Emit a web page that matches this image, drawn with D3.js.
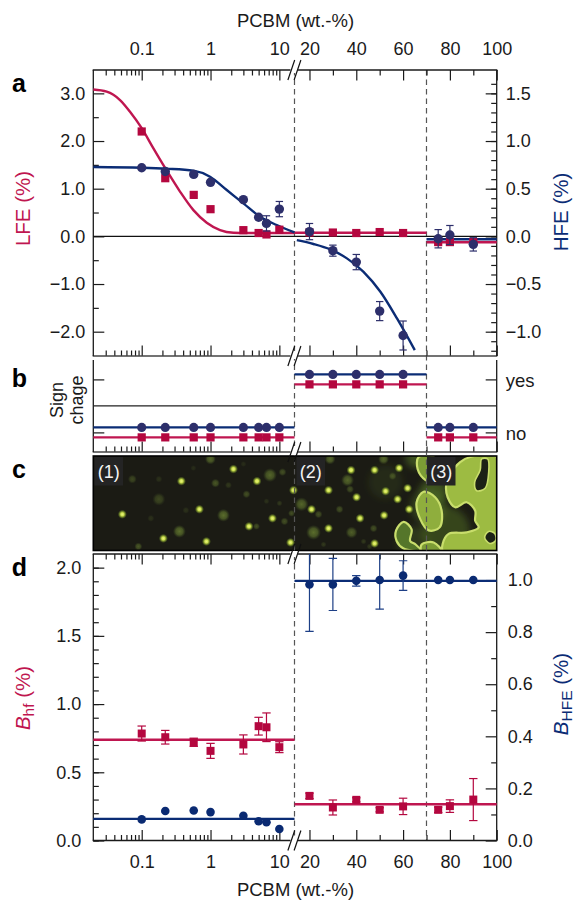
<!DOCTYPE html>
<html><head><meta charset="utf-8">
<script src="https://cdn.jsdelivr.net/npm/d3@7"></script>
<style>html,body{margin:0;padding:0;background:#fff}svg{display:block}text{font-family:"Liberation Sans",Arial,sans-serif;fill:#222}</style>
</head><body><div id="c"></div>
<script>
// ---------- data ----------
const lowPcbm = [0.1,0.22,0.57,1,3,5,6.5,10];
const midPcbm = [20,30,40,50,60];
const highPcbm = [75,80,90];
// panel a
const lfeLow = [2.2,1.22,0.87,0.57,0.13,0.07,0.04,0.14];
const lfeMid = [0.08,0.08,0.07,0.09,0.07];
const lfeHigh = [-0.12,-0.12,-0.12];
const hfeLow = [0.72,0.68,0.65,0.567,0.385,0.2,0.136,0.286];
const hfeLowErr = [0,0,0,0,0,0.02,0.08,0.08];
const hfeMid = [0.05,-0.15,-0.27,-0.784,-1.04];
const hfeMidErr = [0.085,0.058,0.08,0.1,0.152];
const hfeHigh = [-0.025,0.014,-0.084];
const hfeHighErr = [0.096,0.1,0.07];
const lfeCurveX = [0.0198,0.031,0.0484,0.0676,0.1,0.148,0.231,0.36,0.564,0.881,1.376,2.15,3.36,16.6];
const lfeCurveY = [3.08,3.035,2.86,2.615,2.27,1.846,1.38,0.94,0.55,0.287,0.133,0.077,0.07,0.07];
const hfeCurveX = [0.0198,0.1,0.231,0.564,0.984,1.72,3.0,5.25,9.16,16.6];
const hfeCurveY = [0.727,0.72,0.71,0.689,0.626,0.486,0.346,0.206,0.119,0.042];
const hfeCurve2X = [14.6,21.7,28.9,36,43.1,50.3,57.4,65];
const hfeCurve2Y = [-0.04,-0.08,-0.137,-0.231,-0.372,-0.581,-0.861,-1.194];
const lfeMidLevel = 0.075, lfeHighLevel = -0.125, hfeHighLevel = -0.03;
// panel b
const signBlueOffset = 0.094, signRedOffset = -0.094;
// panel d
const bhfLow = [0.784,0.757,0.72,0.657,0.704,0.838,0.83,0.684];
const bhfLowErr = [0.055,0.05,0.03,0.055,0.07,0.065,0.105,0.04];
const bhfMid = [0.327,0.242,0.298,0.225,0.25];
const bhfMidErr = [0.02,0.055,0.015,0.015,0.06];
const bhfHigh = [0.225,0.252,0.3];
const bhfHighErr = [0.02,0.046,0.154];
const bhfLevels = [0.738,0.266];
const bhfeLow = [0.081,0.113,0.115,0.109,0.095,0.074,0.07,0.044];
const bhfeMid = [0.983,0.983,0.997,1.0,1.017];
const bhfeMidErr = [0.18,0.1,0.02,0.112,0.057];
const bhfeHigh = [1,1,1];
const bhfeLevels = [0.083,0.997];
// ticks
const logMajor = [0.1,1,10];
const logMinor = [0.03,0.04,0.05,0.06,0.07,0.08,0.09,0.2,0.3,0.4,0.5,0.6,0.7,0.8,0.9,2,3,4,5,6,7,8,9];
const linMajor = [20,40,60,80,100];
const linMinor = [30,50,70,90];
const boundaries = [70];
// panel c image content, in image pixels (403 x 94)
const brightSpots = [[88,25],[29,58],[106,53],[70,82],[113,85],[140,13],[163.5,25],[200,34],[179,62],[155.5,70],[197,86],[257.5,14],[235,34],[218,53],[235,72],[263,41],[266.5,62],[281,14],[305.5,12],[314,32],[292,35],[304,43],[315.5,53],[290.5,59],[281,87]];
const dimSpots = [[86,75,6.5,.55],[130,59,6.5,.55],[65.5,43,6.5,.3],[117,3,5.5,.5],[39,23,4.5,.3],[122,27,4.5,.4],[45,90,4,.4],[57.5,62,3.5,.15],[92.5,54,3.5,.15],[65.5,23,3.5,.15],[176.5,19,7,.5],[189,16,4,.35],[153,38,4,.35],[208,48,7,.5],[220,76,7.5,.55],[258,76,6,.45],[191,65,4,.35],[163,70,3.5,.35],[254,24,6.5,.5],[236.5,3,5.5,.5],[225,58,4,.35],[246,53,4,.35],[186,47,3,.2],[198,57,3.5,.35],[135,29,3.5,.2],[256.5,33,4,.35],[290,3,5.5,.5],[280,72,4,.35],[299,20,4,.35],[150,8,3,.12],[100,12,3,.12],[230,88,3,.2],[276,90,3,.2],[270,85,3,.2],[173,45,3,.15]];
const haloSpots = [[292,26,17,.16],[340,36,14,.55],[335,50,18,.4],[322,2,10,.55],[352,74,24,.45],[320,86,16,.3],[388,40,10,.3]];
const mainBlob = [[376.5,1],[366.5,6],[356.5,18],[352.5,29],[354,41],[361.5,51],[373,46],[381.5,54.5],[381.5,64.5],[385,71],[373,76],[355,77.5],[349,87.5],[349.5,95],[403,95],[403,1]];
const holeA = [[388,3],[394,3],[395,16],[391.5,32],[383,34.5],[381,26],[386.5,14]];
const holeB = [[395,75],[401,77],[402,84],[396,87],[391,81]];
const blobB = [[330,35.5],[341.5,41],[348,54.5],[346,71],[335,74],[326.5,62.5],[323,46]];
const blobC = [[310,65.5],[318,73],[316.5,84.5],[322,88],[327,94],[310,92],[303,84.5],[302.5,74]];
const blobD = [[325,1],[324,13],[332,24],[340,26],[340,1]];
const blobE = [[328,88],[340,86],[348,95],[328,95]];

// ---------- layout ----------
const L=93.3,R=496.7,BX=294.5,W=574,H=900,LW=2.4,TF=18;
const red="#bf1650",navy="#0b2c75",dot="#2d2f6b",redD="#b4073f",navyD="#0a2a72",ink="#1a1a1a";
const xLog=d3.scaleLog().domain([0.0198,16.6]).range([L,BX]);
const xLin=d3.scaleLinear().domain([13.6,100]).range([BX,R]);
const svg=d3.select("#c").append("svg").attr("width",W).attr("height",H).attr("viewBox",[0,0,W,H]);
const defs=svg.append("defs");
const g1=defs.append("radialGradient").attr("id","bright");
[[0,"#e9f284",1],[.35,"#cfe24f",1],[.62,"#8fa832",.75],[1,"#5c7a20",0]].forEach(s=>g1.append("stop").attr("offset",s[0]).attr("stop-color",s[1]).attr("stop-opacity",s[2]));
const g2=defs.append("radialGradient").attr("id","dim");
[[0,"#8fb040",1],[.55,"#7d9c38",.8],[1,"#56742a",0]].forEach(s=>g2.append("stop").attr("offset",s[0]).attr("stop-color",s[1]).attr("stop-opacity",s[2]));
defs.append("filter").attr("id","soft").append("feGaussianBlur").attr("stdDeviation",.55);
defs.append("filter").attr("id","glow").attr("x","-30%").attr("y","-30%").attr("width","160%").attr("height","160%").append("feGaussianBlur").attr("stdDeviation",3.5);

const T=(x,y,s,o={})=>{const t=svg.append("text").attr("x",x).attr("y",y).attr("font-size",o.size||TF).style("fill",o.fill||ink).attr("text-anchor",o.anchor||"middle").attr("font-weight",o.bold?"bold":null);
 if(o.rot)t.attr("transform",`rotate(${o.rot} ${x} ${y})`);t.text(s);return t;};

function styleAxis(g,labels){g.select(".domain").remove();g.selectAll("line").attr("stroke",ink).attr("stroke-width",1.2);
 g.selectAll("text").attr("font-size",TF).style("fill",ink);}
function xTicks(top,y,labels,pad){
 const mk=top?d3.axisTop:d3.axisBottom;
 [[xLog,logMajor,true],[xLog,logMinor,false],[xLin,linMajor,true],[xLin,linMinor,false]].forEach(([sc,vals,maj])=>{
  const a=mk(sc).tickValues(vals).tickSize(maj?-10.5:-5.5).tickPadding(pad||0).tickFormat(maj&&labels?(d=>String(d)):"");
  const g=svg.append("g").attr("transform",`translate(0,${y})`).call(a);styleAxis(g);
 });
}
function yAxis(scale,side,major,minor,fmt,pad){
 const x=side==="l"?L:R,mk=side==="l"?d3.axisLeft:d3.axisRight;
 let g=svg.append("g").attr("transform",`translate(${x},0)`).call(mk(scale).tickValues(major).tickSize(-11).tickPadding(pad).tickFormat(fmt));styleAxis(g);
 g=svg.append("g").attr("transform",`translate(${x},0)`).call(mk(scale).tickValues(minor).tickSize(-5.5).tickFormat(""));styleAxis(g);
}
const hl=(x1,x2,y,c,w)=>svg.append("line").attr("x1",x1).attr("x2",x2).attr("y1",y).attr("y2",y).attr("stroke",c).attr("stroke-width",w);
const vl=(x,y1,y2,c,w)=>svg.append("line").attr("x1",x).attr("x2",x).attr("y1",y1).attr("y2",y2).attr("stroke",c).attr("stroke-width",w);
function breakMark(y){
 svg.append("rect").attr("x",BX-4).attr("y",y-3).attr("width",7.5).attr("height",6).attr("fill","#fff");
 [-3.2,3].forEach(d=>svg.append("line").attr("x1",BX+d-3.4).attr("x2",BX+d+3.4).attr("y1",y+10).attr("y2",y-10).attr("stroke","#111").attr("stroke-width",1.2));
}
const circles=(xs,ys,sx,sy,c,r)=>svg.append("g").selectAll("circle").data(xs).join("circle").attr("cx",d=>sx(d)).attr("cy",(d,i)=>sy(ys[i])).attr("r",r).attr("fill",c);
const squares=(xs,ys,sx,sy,c,s)=>svg.append("g").selectAll("rect").data(xs).join("rect").attr("x",d=>sx(d)-s/2).attr("y",(d,i)=>sy(ys[i])-s/2).attr("width",s).attr("height",s).attr("fill",c);
function errs(xs,ys,es,sx,sy,c,cap,clip){
 const g=svg.append("g").attr("stroke",c).attr("stroke-width",1.2);if(clip)g.attr("clip-path",clip);
 xs.forEach((v,i)=>{if(!es[i])return;const x=sx(v),a=sy(ys[i]-es[i]),b=sy(ys[i]+es[i]);
  g.append("line").attr("x1",x).attr("x2",x).attr("y1",a).attr("y2",b);
  [a,b].forEach(y=>g.append("line").attr("x1",x-cap).attr("x2",x+cap).attr("y1",y).attr("y2",y));});
}
const curve=(xs,ys,sx,sy,c,w)=>svg.append("path").attr("fill","none").attr("stroke",c).attr("stroke-width",w).attr("d",d3.line().x(d=>sx(d)).y((d,i)=>sy(ys[i])).curve(d3.curveMonotoneX)(xs));

// ---------- panel c (first, so dashes overlay) ----------
const cT=456,cB=550.5;
const ix=d3.scaleLinear().domain([0,403]).range([L,R]), iy=d3.scaleLinear().domain([0,94]).range([cT,cB]);
defs.append("clipPath").attr("id","imgclip").append("rect").attr("x",L).attr("y",cT).attr("width",R-L).attr("height",cB-cT);
const img=svg.append("g").attr("clip-path","url(#imgclip)");
img.append("rect").attr("x",L).attr("y",cT).attr("width",R-L).attr("height",cB-cT).attr("fill","#1b1b14");
const hg=img.append("g").attr("filter","url(#glow)");
hg.selectAll("circle").data(haloSpots).join("circle").attr("cx",d=>ix(d[0])).attr("cy",d=>iy(d[1])).attr("r",d=>d[2]).attr("fill","#587a28").attr("opacity",d=>d[3]);
img.append("g").selectAll("circle").data(dimSpots).join("circle").attr("cx",d=>ix(d[0])).attr("cy",d=>iy(d[1])).attr("r",d=>d[2]).attr("fill","url(#dim)").attr("opacity",d=>d[3]);
img.append("g").selectAll("circle").data(brightSpots).join("circle").attr("cx",d=>ix(d[0])).attr("cy",d=>iy(d[1])).attr("r",4.6).attr("fill","url(#bright)");
const blob=d3.line().x(d=>ix(d[0])).y(d=>iy(d[1])).curve(d3.curveCatmullRomClosed.alpha(.5));
const bl=img.append("g").attr("filter","url(#soft)");
[[blobC,"#55762a"],[blobD,"#7c9c36"],[blobE,"#7c9c36"],[blobB,"#8fae3c"],[mainBlob,"#9dbb43"]].forEach(([p,f])=>bl.append("path").attr("d",blob(p)).attr("fill",f).attr("stroke","#c9de6c").attr("stroke-width",2.2));
[holeA,holeB].forEach(p=>bl.append("path").attr("d",blob(p)).attr("fill","#1d2212").attr("stroke","#c9de6c").attr("stroke-width",1.6));
svg.append("rect").attr("x",L).attr("y",cT).attr("width",R-L).attr("height",cB-cT).attr("fill","none").attr("stroke","#000").attr("stroke-width",1.6);
[[94.5,"(1)"],[296.5,"(2)"],[427,"(3)"]].forEach(([x,s])=>{
 svg.append("rect").attr("x",x).attr("y",457).attr("width",28.5).attr("height",28.5).attr("fill","#242424");
 T(x+14.2,477.5,s,{fill:"#f4f4f4",size:18}).style("fill","#f4f4f4");
});

// ---------- dashed boundaries ----------
[BX,xLin(boundaries[0])].forEach(x=>vl(x,70,840,"#555",1.2).attr("stroke-dasharray","5.5 4"));

// ---------- panel a ----------
const aT=70,aB=356;
const yL=d3.scaleLinear().domain([-2.51,3.49]).range([aB,aT]);
const yH=d3.scaleLinear().domain([-1.255,1.745]).range([aB,aT]);
xTicks(true,aT,true,15);
xTicks(false,aB,false);
yAxis(yL,"l",[3,2,1,0,-1,-2],[2.5,1.5,.5,-.5,-1.5],d3.format(".1f"),8);
yAxis(yH,"r",[1.5,1,.5,0,-.5,-1],d3.range(-12,17).map(d=>d/10),d3.format(".1f"),9);
hl(L-.6,BX-3,aT,ink,1.3);hl(BX+3,R+.6,aT,ink,1.3);hl(L-.6,BX-3,aB,"#444",1.5);hl(BX+3,R+.6,aB,"#444",1.5);vl(L,aT,aB,ink,1.3);vl(R,aT,aB,ink,1.3);
hl(L,R,yL(0),"#111",1.3);
curve(lfeCurveX,lfeCurveY,xLog,yL,red,LW);
hl(BX,xLin(70),yL(lfeMidLevel),red,LW);
hl(xLin(70),R,yL(lfeHighLevel),red,LW);
curve(hfeCurveX,hfeCurveY,xLog,yH,navy,LW);
curve(hfeCurve2X,hfeCurve2Y,xLin,yH,navy,LW);
hl(xLin(70),R,yH(hfeHighLevel),navy,LW);
squares(lowPcbm,lfeLow,xLog,yL,redD,8.2);squares(midPcbm,lfeMid,xLin,yL,redD,8.2);squares(highPcbm,lfeHigh,xLin,yL,redD,8.2);
errs(lowPcbm,hfeLow,hfeLowErr,xLog,yH,dot,3.7);errs(midPcbm,hfeMid,hfeMidErr,xLin,yH,dot,3.7);errs(highPcbm,hfeHigh,hfeHighErr,xLin,yH,dot,3.7);
circles(lowPcbm,hfeLow,xLog,yH,dot,4.7);circles(midPcbm,hfeMid,xLin,yH,dot,4.7);circles(highPcbm,hfeHigh,xLin,yH,dot,4.7);
breakMark(aT);breakMark(aB);

// ---------- panel b ----------
const bT=360,bB=452;
const yS=d3.scaleLinear().domain([-.37,1.366]).range([bB,bT]);
xTicks(false,bB,false);
yAxis(yS,"l",[0,1],[],"",0);
const by=svg.append("g").attr("transform",`translate(${R},0)`).call(d3.axisRight(yS).tickValues([0,1]).tickSize(-11).tickPadding(9).tickFormat(d=>d?"yes":"no"));
styleAxis(by);by.selectAll("text").attr("font-size",18.5).attr("dy",".36em");
hl(L-.6,BX-3,bB,"#444",1.4);hl(BX+3,R+.6,bB,"#444",1.4);vl(L,bT,bB,ink,1.3);vl(R,bT,bB,ink,1.3);
hl(L,R,yS(.5),"#222",1.3);
[[L,BX,0],[BX,xLin(70),1],[xLin(70),R,0]].forEach(([a,b,v])=>{
 hl(a,b,yS(v+signBlueOffset),navy,LW);hl(a,b,yS(v+signRedOffset),red,LW);
});
[[lowPcbm,xLog,0],[midPcbm,xLin,1],[highPcbm,xLin,0]].forEach(([xs,sx,v])=>{
 circles(xs,xs.map(()=>v+signBlueOffset),sx,yS,dot,4.6);
 squares(xs,xs.map(()=>v+signRedOffset),sx,yS,redD,8.2);
});
breakMark(bB);

// ---------- panel d ----------
const dT=554,dB=840.5;
const yB=d3.scaleLinear().domain([0,2.1]).range([dB,dT]);
const yF=d3.scaleLinear().domain([0,1.1]).range([dB,dT]);
defs.append("clipPath").attr("id","dclip").append("rect").attr("x",L).attr("y",dT).attr("width",R-L).attr("height",dB-dT);
xTicks(true,dT,false);
xTicks(false,dB,true,15);
yAxis(yB,"l",[0,.5,1,1.5,2],d3.range(0,21).map(d=>d/10),d3.format(".1f"),12);
yAxis(yF,"r",[0,.2,.4,.6,.8,1],[.1,.3,.5,.7,.9],d3.format(".1f"),11);
hl(L-.6,BX-3,dT,ink,1.3);hl(BX+3,R+.6,dT,ink,1.3);hl(L-.6,BX-3,dB,ink,1.3);hl(BX+3,R+.6,dB,ink,1.3);vl(L,dT,dB,ink,1.3);vl(R,dT,dB,ink,1.3);
hl(L,BX,yB(bhfLevels[0]),red,LW);hl(BX,R,yB(bhfLevels[1]),red,LW);
hl(L,BX,yF(bhfeLevels[0]),navy,LW);hl(BX,R,yF(bhfeLevels[1]),navy,LW);
errs(lowPcbm,bhfLow,bhfLowErr,xLog,yB,redD,4.2);errs(midPcbm,bhfMid,bhfMidErr,xLin,yB,redD,4.2);errs(highPcbm,bhfHigh,bhfHighErr,xLin,yB,redD,4.2);
errs(midPcbm,bhfeMid,bhfeMidErr,xLin,yF,"#1d3f86",4.2,"url(#dclip)");
squares(lowPcbm,bhfLow,xLog,yB,redD,8);squares(midPcbm,bhfMid,xLin,yB,redD,8);squares(highPcbm,bhfHigh,xLin,yB,redD,8);
circles(lowPcbm,bhfeLow,xLog,yF,navyD,4.3);circles(midPcbm,bhfeMid,xLin,yF,navyD,4.3);circles(highPcbm,bhfeHigh,xLin,yF,navyD,4.3);
breakMark(dT);breakMark(dB);

// ---------- labels ----------
T(295.5,26.5,"PCBM (wt.-%)",{size:18.5});
T(295.5,896,"PCBM (wt.-%)",{size:18.5});
T(19,92,"a",{size:25,bold:true,fill:"#000"});
T(19.5,387,"b",{size:25,bold:true,fill:"#000"});
T(19,478,"c",{size:25,bold:true,fill:"#000"});
T(19.5,576,"d",{size:25,bold:true,fill:"#000"});
T(30,208.5,"LFE (%)",{size:20.5,rot:-90,fill:red});
T(568,212,"HFE (%)",{size:20.5,rot:-90,fill:navy});
T(62.5,400,"Sign",{size:18,rot:-90});
T(83,400,"chage",{size:18,rot:-90});
function sub(x,y,b,s,tail,c){
 const t=T(x,y,"",{size:20.5,rot:-90,fill:c});
 t.append("tspan").attr("font-style","italic").text(b);
 t.append("tspan").attr("font-size",15.5).attr("dy",4).text(s);
 t.append("tspan").attr("dy",-4).text(tail);
}
sub(30,698,"B","hf"," (%)",red);
sub(568,694,"B","HFE"," (%)",navy);
</script></body></html>
